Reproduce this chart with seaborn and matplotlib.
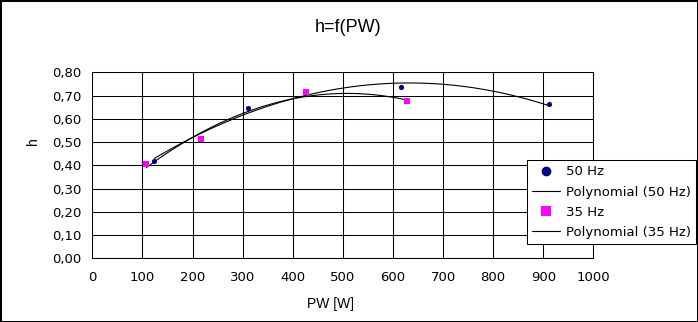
import matplotlib
matplotlib.use("Agg")
import matplotlib.pyplot as plt
from matplotlib.lines import Line2D
import seaborn as sns
import pandas as pd

# ---- data ----
pw_50 = [124, 310, 616, 912]
h_50 = [0.418, 0.648, 0.735, 0.662]
pw_35 = [108, 217, 426, 628]
h_35 = [0.404, 0.514, 0.714, 0.675]
x_ticks = [0, 100, 200, 300, 400, 500, 600, 700, 800, 900, 1000]
y_ticks = [0.0, 0.1, 0.2, 0.3, 0.4, 0.5, 0.6, 0.7, 0.8]
y_tick_labels = ["0,00", "0,10", "0,20", "0,30", "0,40", "0,50", "0,60", "0,70", "0,80"]
title = "h=f(PW)"
x_label = "PW [W]"
y_label = "h"
legend_labels = ["50 Hz", "Polynomial (50 Hz)", "35 Hz", "Polynomial (35 Hz)"]

df50 = pd.DataFrame({"pw": pw_50, "h": h_50})
df35 = pd.DataFrame({"pw": pw_35, "h": h_35})

sns.set_theme(style="white")
plt.rcParams["font.family"] = ["DejaVu Sans"]

W, H = 698, 322
fig = plt.figure(figsize=(W / 100, H / 100), dpi=100)
fig.patch.set_facecolor("white")
fig.patch.set_edgecolor("black")
fig.patch.set_linewidth(2)

ax = fig.add_axes([92.3 / W, 1 - 258.3 / H, 501 / W, 186 / H])

navy = "#000080"
magenta = "#ff00ff"

sns.regplot(data=df50, x="pw", y="h", order=2, ci=None, scatter=False, truncate=True,
            color="black", line_kws={"lw": 0.8}, ax=ax)
sns.regplot(data=df35, x="pw", y="h", order=2, ci=None, scatter=False, truncate=True,
            color="black", line_kws={"lw": 0.8}, ax=ax)
sns.scatterplot(data=df50, x="pw", y="h", marker="o", color=navy, s=14, linewidth=0, ax=ax, zorder=4)
sns.scatterplot(data=df35, x="pw", y="h", marker="s", color=magenta, s=14, linewidth=0, ax=ax, zorder=4)

ax.set_xlim(0, 1000)
ax.set_ylim(0, 0.8)
ax.set_xticks(x_ticks)
ax.set_xticklabels([str(v) for v in x_ticks])
ax.set_yticks(y_ticks)
ax.set_yticklabels(y_tick_labels)
ax.set_xlabel("")
ax.set_ylabel("")
ax.grid(True, color="black", linewidth=0.75)
ax.set_axisbelow(True)
for s in ax.spines.values():
    s.set_color("black")
    s.set_linewidth(0.75)
ax.tick_params(axis="both", which="major", direction="out", length=4.3, width=0.75,
               color="black", labelcolor="black", labelsize=9.5)
ax.tick_params(axis="y", pad=3.6)
ax.tick_params(axis="x", pad=4.5)

fig.text(348 / W, 1 - 31.7 / H, title, ha="center", va="baseline",
         fontsize=13, family=["Liberation Sans", "DejaVu Sans"], color="black")
fig.text(330.3 / W, 1 - 308.3 / H, x_label, ha="center", va="baseline",
         fontsize=10, family=["Liberation Sans", "DejaVu Sans"], color="black")
fig.text(32.5 / W, 1 - 141.5 / H, y_label, ha="center", va="center", rotation=90,
         fontsize=10, family=["Liberation Sans", "DejaVu Sans"], color="black")

handles = [
    Line2D([], [], marker="o", color=navy, ls="none", markersize=7, markeredgewidth=0),
    Line2D([], [], color="black", lw=0.8),
    Line2D([], [], marker="s", color=magenta, ls="none", markersize=6.7, markeredgewidth=0),
    Line2D([], [], color="black", lw=0.8),
]
leg = fig.legend(handles, legend_labels, loc="upper right",
                 bbox_to_anchor=(696 / W, 1 - 160 / H), bbox_transform=fig.transFigure,
                 frameon=True, fancybox=False, edgecolor="black", framealpha=1,
                 borderpad=0.4, labelspacing=0.55, handlelength=2.12, handletextpad=0.4,
                 borderaxespad=0, fontsize=9.5)
leg.get_frame().set_linewidth(0.75)
for t in leg.get_texts():
    t.set_color("black")

fig.savefig("out.png", dpi=100, facecolor="white", edgecolor="black")
